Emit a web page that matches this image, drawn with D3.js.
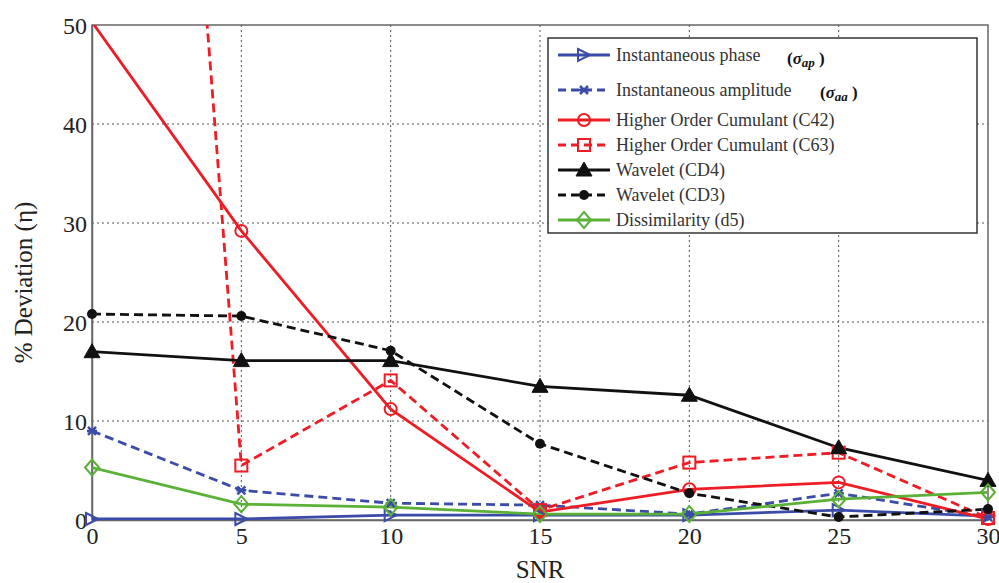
<!DOCTYPE html>
<html><head><meta charset="utf-8">
<script src="https://cdn.jsdelivr.net/npm/d3@7"></script>
<style>body{margin:0;background:#fff}svg{display:block}
text{font-family:'Liberation Serif','Times New Roman','DejaVu Serif',serif}</style>
</head><body>
<svg id="c" width="999" height="583"></svg>
<script>
const snr = [0, 5, 10, 15, 20, 25, 30];
const instPhase = [0.1, 0.1, 0.5, 0.5, 0.5, 1.0, 0.4];
const instAmp = [9.0, 3.0, 1.7, 1.5, 0.6, 2.7, 0.3];
const hocC42 = [50.3, 29.2, 11.2, 0.8, 3.1, 3.8, 0.1];
const hocC63 = [200, 5.5, 14.1, 1.0, 5.8, 6.8, 0.2];
const waveCD4 = [17.0, 16.1, 16.1, 13.5, 12.6, 7.3, 4.0];
const waveCD3 = [20.8, 20.6, 17.1, 7.7, 2.7, 0.3, 1.1];
const dissim = [5.3, 1.6, 1.3, 0.6, 0.6, 2.1, 2.8];
const xTicks = [0, 5, 10, 15, 20, 25, 30];
const yTicks = [0, 10, 20, 30, 40, 50];
const seriesNames = ["Instantaneous phase", "Instantaneous amplitude", "Higher Order Cumulant (C42)", "Higher Order Cumulant  (C63)", "Wavelet (CD4)", "Wavelet (CD3)", "Dissimilarity (d5)"];

const series = [
  {name: seriesNames[0], v: instPhase, color: "#3b4ba8", dash: null, marker: "triR"},
  {name: seriesNames[1], v: instAmp, color: "#3b4ba8", dash: "9,5", marker: "x"},
  {name: seriesNames[2], v: hocC42, color: "#ee1c24", dash: null, marker: "circle"},
  {name: seriesNames[3], v: hocC63, color: "#ee1c24", dash: "9,5", marker: "square"},
  {name: seriesNames[4], v: waveCD4, color: "#111", dash: null, marker: "triU"},
  {name: seriesNames[5], v: waveCD3, color: "#111", dash: "9,5", marker: "dot"},
  {name: seriesNames[6], v: dissim, color: "#5ab136", dash: null, marker: "diamond"}
];

const FONT = "'Liberation Serif','Times New Roman','DejaVu Serif',serif";
const svg = d3.select("#c");
const L = 92, R = 988, T = 25, B = 520;
const x = d3.scaleLinear().domain([0, 30]).range([L, R]);
const y = d3.scaleLinear().domain([0, 50]).range([B, T]);

// grid
const g = svg.append("g");
g.selectAll(".vg").data(xTicks.slice(1, -1)).enter().append("line")
  .attr("x1", d => x(d)).attr("x2", d => x(d)).attr("y1", T).attr("y2", B)
  .attr("stroke", "#555").attr("stroke-width", 1).attr("stroke-dasharray", "2,3");
g.selectAll(".hg").data(yTicks.slice(1, -1)).enter().append("line")
  .attr("x1", L).attr("x2", R).attr("y1", d => y(d)).attr("y2", d => y(d))
  .attr("stroke", "#555").attr("stroke-width", 1).attr("stroke-dasharray", "2,3");

// box
svg.append("rect").attr("x", L).attr("y", T).attr("width", R - L).attr("height", B - T)
  .attr("fill", "none").attr("stroke", "#666").attr("stroke-width", 1.5);

// axes
const xAxis = d3.axisBottom(x).tickValues(xTicks).tickSize(0).tickPadding(6);
const yAxis = d3.axisLeft(y).tickValues(yTicks).tickSize(0).tickPadding(5);
const xa = svg.append("g").attr("transform", `translate(0,${B})`).call(xAxis);
const ya = svg.append("g").attr("transform", `translate(${L},0)`).call(yAxis);
[xa, ya].forEach(a => {
  a.attr("font-family", null);
  a.select(".domain").attr("stroke", "#666").attr("stroke-width", 1.5);
  a.selectAll("text").style("font-family", FONT).attr("font-size", 24).attr("fill", "#222");
});
xa.selectAll("text").attr("dy", "0.75em");
ya.selectAll("text").attr("dy", "0.35em");

svg.append("text").attr("x", x(15)).attr("y", 578).attr("text-anchor", "middle")
  .style("font-family", FONT).attr("font-size", 25).attr("fill", "#222").text("SNR");
svg.append("text").attr("transform", `translate(32,${(T + B) / 2 + 10}) rotate(-90)`).attr("text-anchor", "middle")
  .style("font-family", FONT).attr("font-size", 25).attr("fill", "#222").text("% Deviation   (η)");

// clip
svg.append("clipPath").attr("id", "clip").append("rect").attr("x", L).attr("y", T).attr("width", R - L).attr("height", B - T);

function drawMarker(sel, type, color, cx, cy) {
  const s = 6;
  if (type === "triR") {
    sel.append("path").attr("d", `M${cx - s},${cy - s}L${cx + s},${cy}L${cx - s},${cy + s}Z`)
      .attr("fill", "none").attr("stroke", color).attr("stroke-width", 2);
  } else if (type === "x") {
    sel.append("path").attr("d", `M${cx - 4},${cy - 4}L${cx + 4},${cy + 4}M${cx - 4},${cy + 4}L${cx + 4},${cy - 4}M${cx - 5},${cy}L${cx + 5},${cy}`)
      .attr("stroke", color).attr("stroke-width", 2.5);
  } else if (type === "circle") {
    sel.append("circle").attr("cx", cx).attr("cy", cy).attr("r", 6)
      .attr("fill", "none").attr("stroke", color).attr("stroke-width", 2);
  } else if (type === "square") {
    sel.append("rect").attr("x", cx - 6).attr("y", cy - 6).attr("width", 12).attr("height", 12)
      .attr("fill", "none").attr("stroke", color).attr("stroke-width", 2);
  } else if (type === "triU") {
    sel.append("path").attr("d", `M${cx},${cy - 8}L${cx + 8},${cy + 6}L${cx - 8},${cy + 6}Z`)
      .attr("fill", color).attr("stroke", color).attr("stroke-width", 1);
  } else if (type === "dot") {
    sel.append("circle").attr("cx", cx).attr("cy", cy).attr("r", 5).attr("fill", color);
  } else if (type === "diamond") {
    sel.append("path").attr("d", `M${cx},${cy - 8}L${cx + 7},${cy}L${cx},${cy + 8}L${cx - 7},${cy}Z`)
      .attr("fill", "none").attr("stroke", color).attr("stroke-width", 2);
  }
}

const line = d3.line().x((d, i) => x(snr[i])).y(d => y(d));
const plot = svg.append("g").attr("clip-path", "url(#clip)");
series.forEach(s => {
  plot.append("path").attr("d", line(s.v)).attr("fill", "none").attr("stroke", s.color)
    .attr("stroke-width", 2.8).attr("stroke-dasharray", s.dash);
});
const mk = svg.append("g");
series.forEach(s => {
  s.v.forEach((d, i) => { if (d < 50) drawMarker(mk, s.marker, s.color, x(snr[i]), y(d)); });
});

// legend
const lg = svg.append("g");
lg.append("rect").attr("x", 548).attr("y", 38).attr("width", 429).attr("height", 195)
  .attr("fill", "#fff").attr("stroke", "#333").attr("stroke-width", 1.5);
const rowY = [55, 90, 120, 145, 170, 195, 220];
series.forEach((s, i) => {
  const yy = rowY[i];
  lg.append("line").attr("x1", 558).attr("x2", 610).attr("y1", yy).attr("y2", yy)
    .attr("stroke", s.color).attr("stroke-width", 2.8).attr("stroke-dasharray", s.dash ? "8,5" : null);
  drawMarker(lg, s.marker, s.color, 584, yy);
  lg.append("text").attr("x", 616).attr("y", yy + 6).style("font-family", FONT)
    .attr("font-size", 18).attr("fill", "#333").text(s.name);
});
function sigma(xp, yp, sub) {
  const t = lg.append("text").attr("x", xp).attr("y", yp).style("font-family", FONT)
    .attr("font-size", 17).attr("font-weight", "bold").attr("fill", "#111");
  t.append("tspan").text("(");
  t.append("tspan").attr("font-style", "italic").text("σ");
  t.append("tspan").attr("font-style", "italic").attr("font-size", 13).attr("dy", 3).text(sub);
  t.append("tspan").attr("dy", -3).text(" )");
}
sigma(787, 64, "ap");
sigma(820, 98, "aa");
</script>
</body></html>
